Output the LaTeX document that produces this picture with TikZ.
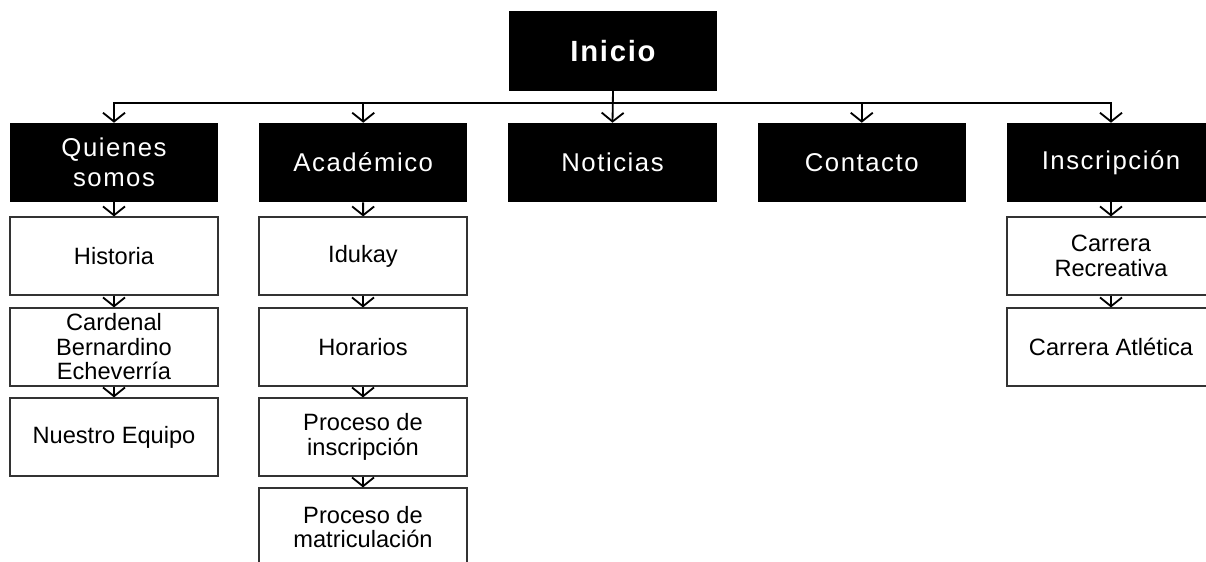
\documentclass[tikz,border=0pt]{standalone}
\usepackage{fontspec}
\setmainfont{Liberation Sans}
\newfontfamily\menufont[LetterSpace=6]{Liberation Sans}
\usetikzlibrary{arrows.meta}
\tikzset{
  menu/.style={fill=black, text=white, minimum width=5.2cm, minimum height=1.975cm,
    inner sep=0pt, align=center, font=\menufont\fontsize{18.3}{21.3}\selectfont},
  page/.style={draw=black!80, line width=0.8pt, fill=white, minimum width=5.2cm,
    minimum height=1.95cm, inner sep=0pt, align=center,
    font=\fontsize{16.8}{17.4}\selectfont},
  link/.style={line width=1.3pt, -{Straight Barb[length=0.22cm,width=0.55cm]}}
}
\begin{document}
\begin{tikzpicture}[x=0.025cm,y=-0.025cm]
 \useasboundingbox (0,0) rectangle (1206,561);
 \clip (0,0) rectangle (1206,561);
 % root
 \node[menu, font=\menufont\bfseries\fontsize{20.8}{24}\selectfont] (inicio) at (613,51) {Inicio};
 \coordinate (bus) at (613,103);
 % main menu
 \foreach \name/\txt [count=\i from 0] in {quienes/{Quienes\\somos},academico/{Académico},
   noticias/{Noticias},contacto/{Contacto},inscripcion/{Inscripción}}{
   \node[menu] (\name) at ({114+249.25*\i},162.5) {\txt};
 }
 % pages
 \node[page] (historia) at (114,256) {Historia};
 \node[page] (cardenal) at (114,347) {Cardenal\\Bernardino\\Echeverría};
 \node[page] (equipo) at (114,437) {Nuestro Equipo};
 \node[page] (idukay) at (363,256) {Idukay};
 \node[page] (horarios) at (363,347) {Horarios};
 \node[page] (pinscripcion) at (363,437) {Proceso de\\inscripción};
 \node[page] (pmatricula) at (363,527) {Proceso de\\matriculación};
 \node[page] (recreativa) at (1111,256) {Carrera\\Recreativa};
 \node[page] (atletica) at (1111,347) {Carrera Atlética};
 % connectors
 \draw[link] (inicio.south) -- (noticias.north);
 \foreach \m in {quienes,academico,contacto,inscripcion}{
   \draw[link] (bus) -| (\m.north);
 }
 \draw[link] (quienes) -- (historia);
 \draw[link] (historia) -- (cardenal);
 \draw[link] (cardenal) -- (equipo);
 \draw[link] (academico) -- (idukay);
 \draw[link] (idukay) -- (horarios);
 \draw[link] (horarios) -- (pinscripcion);
 \draw[link] (pinscripcion) -- (pmatricula);
 \draw[link] (inscripcion) -- (recreativa);
 \draw[link] (recreativa) -- (atletica);
\end{tikzpicture}
\end{document}
